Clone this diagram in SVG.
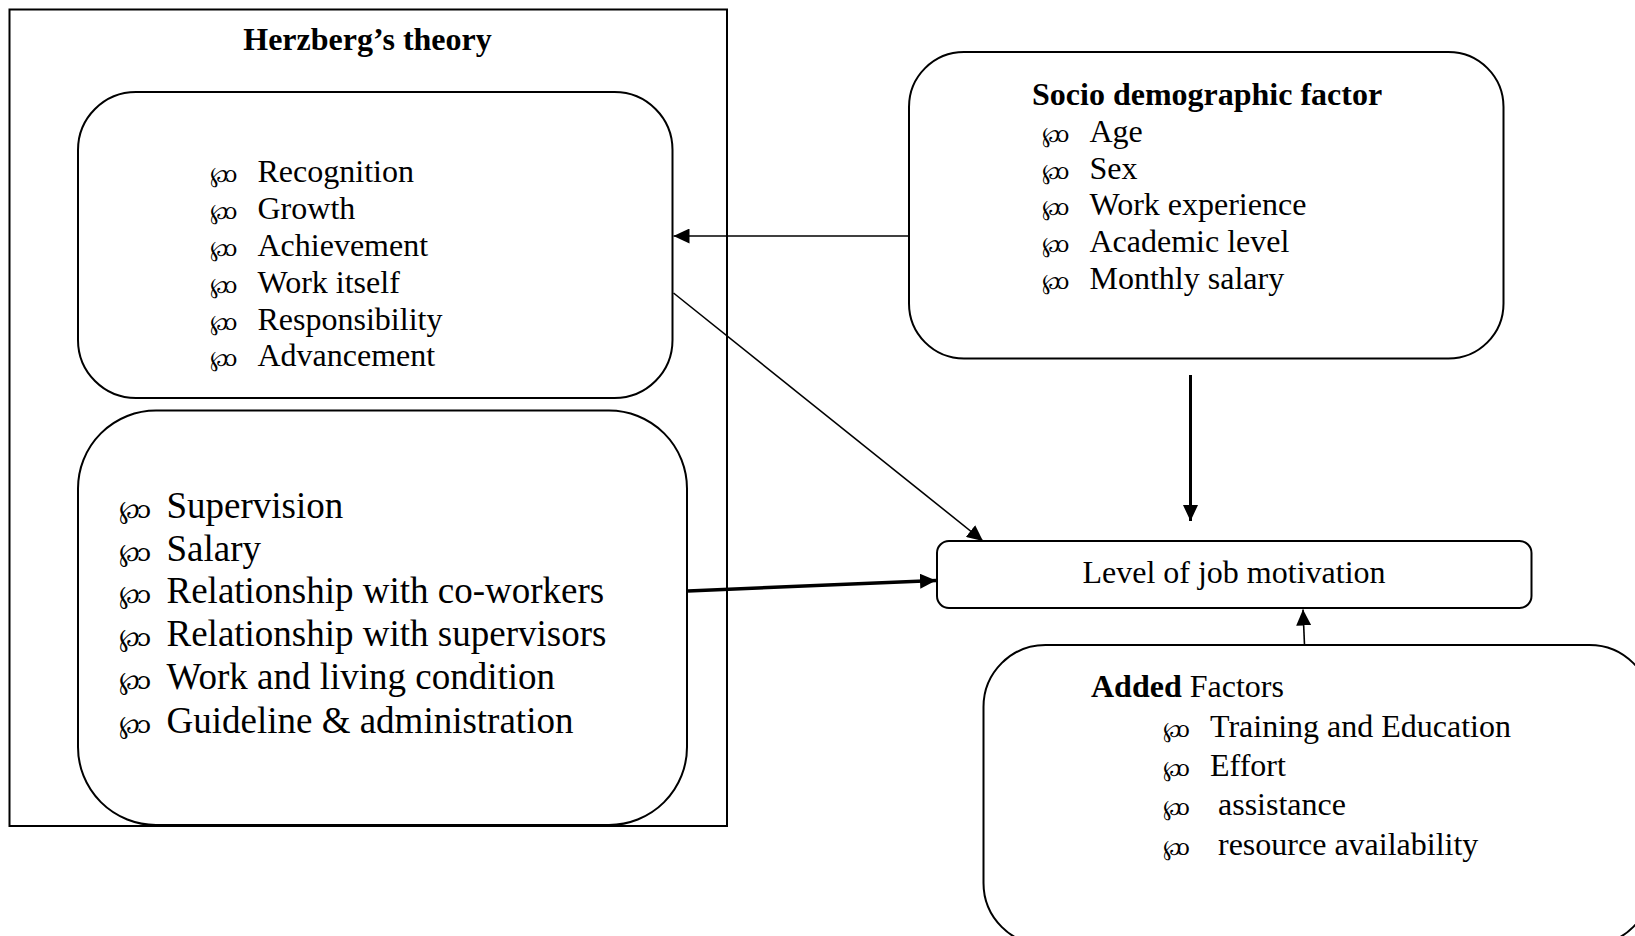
<svg xmlns="http://www.w3.org/2000/svg" width="1635" height="936" viewBox="0 0 1635 936">
  <style>
    .box { fill: #fff; stroke: #000; stroke-width: 2; }
    .frame { fill: none; stroke: #000; stroke-width: 2; }
    .t { font-family: "Liberation Serif", "Times New Roman", serif; font-size: 32px; fill: #000; }
    .big { font-size: 37px; }
    .b { font-weight: bold; }
    .bul { font-family: "DejaVu Serif", "Liberation Serif", serif; font-size: 22px; fill: #000; letter-spacing: -3px; }
    .bulbig { font-size: 25px; }
    .wire { stroke: #000; fill: none; stroke-width: 1.6; }
    .wire-thick { stroke: #000; fill: none; stroke-width: 3.5; }
    .wire-mid { stroke: #000; fill: none; stroke-width: 3; }
  </style>
  <defs>
    <marker id="head" viewBox="0 0 16 15" refX="16" refY="7.5" markerUnits="userSpaceOnUse" markerWidth="16" markerHeight="15" orient="auto">
      <path d="M0,0 L16,7.5 L0,15 Z" fill="#000"/>
    </marker>
  </defs>

  <rect width="1635" height="936" fill="#fff"/>

  <!-- Herzberg frame with its two factor boxes -->
  <g id="herzberg">
    <rect class="frame" x="9.5" y="9.5" width="717.5" height="816.5"/>
    <text class="t b" x="367.5" y="50" text-anchor="middle">Herzberg’s theory</text>
  </g>

  <g id="motivators">
    <rect class="box" x="78" y="92" width="594.5" height="306" rx="58" ry="58"/>
    <g class="bul">
      <text x="210" y="181.5">℘ɔ</text>
      <text x="210" y="218.5">℘ɔ</text>
      <text x="210" y="255.5">℘ɔ</text>
      <text x="210" y="292.5">℘ɔ</text>
      <text x="210" y="329.5">℘ɔ</text>
      <text x="210" y="366">℘ɔ</text>
    </g>
    <g class="t">
      <text x="257.5" y="181.5">Recognition</text>
      <text x="257.5" y="218.5">Growth</text>
      <text x="257.5" y="255.5">Achievement</text>
      <text x="257.5" y="292.5">Work itself</text>
      <text x="257.5" y="329.5">Responsibility</text>
      <text x="257.5" y="366">Advancement</text>
    </g>
  </g>

  <g id="hygiene">
    <rect class="box" x="78" y="410.5" width="609" height="414.5" rx="78" ry="78"/>
    <g class="bul bulbig">
      <text x="119" y="518">℘ɔ</text>
      <text x="119" y="560.5">℘ɔ</text>
      <text x="119" y="603">℘ɔ</text>
      <text x="119" y="646">℘ɔ</text>
      <text x="119" y="689">℘ɔ</text>
      <text x="119" y="732.5">℘ɔ</text>
    </g>
    <g class="t big">
      <text x="166.5" y="518">Supervision</text>
      <text x="166.5" y="560.5">Salary</text>
      <text x="166.5" y="603">Relationship with co-workers</text>
      <text x="166.5" y="646">Relationship with supervisors</text>
      <text x="166.5" y="689">Work and living condition</text>
      <text x="166.5" y="732.5">Guideline &amp; administration</text>
    </g>
  </g>

  <g id="socio">
    <rect class="box" x="909" y="52" width="594.5" height="306.5" rx="55" ry="55"/>
    <text class="t b" x="1032" y="105">Socio demographic factor</text>
    <g class="bul">
      <text x="1042" y="141.5">℘ɔ</text>
      <text x="1042" y="178.5">℘ɔ</text>
      <text x="1042" y="215">℘ɔ</text>
      <text x="1042" y="251.5">℘ɔ</text>
      <text x="1042" y="288.5">℘ɔ</text>
    </g>
    <g class="t">
      <text x="1089.5" y="141.5">Age</text>
      <text x="1089.5" y="178.5">Sex</text>
      <text x="1089.5" y="215">Work experience</text>
      <text x="1089.5" y="251.5">Academic level</text>
      <text x="1089.5" y="288.5">Monthly salary</text>
    </g>
  </g>

  <g id="motivation">
    <rect class="box" x="937" y="541" width="594.5" height="67" rx="12" ry="12"/>
    <text class="t" x="1234" y="583" text-anchor="middle">Level of job motivation</text>
  </g>

  <g id="added">
    <rect class="box" x="983.5" y="645" width="668" height="300" rx="62" ry="62"/>
    <text class="t" x="1091" y="697"><tspan class="b">Added</tspan> Factors</text>
    <g class="bul">
      <text x="1162.5" y="736.5">℘ɔ</text>
      <text x="1162.5" y="775.5">℘ɔ</text>
      <text x="1162.5" y="814.5">℘ɔ</text>
      <text x="1162.5" y="855">℘ɔ</text>
    </g>
    <g class="t">
      <text x="1210" y="736.5">Training and Education</text>
      <text x="1210" y="775.5">Effort</text>
      <text x="1218" y="814.5">assistance</text>
      <text x="1218" y="855">resource availability</text>
    </g>
  </g>

  <g id="connectors">
    <line class="wire" x1="909" y1="236" x2="673.5" y2="236" marker-end="url(#head)"/>
    <line class="wire" x1="673.5" y1="293" x2="983" y2="541" marker-end="url(#head)"/>
    <line class="wire-thick" x1="688" y1="591" x2="936" y2="580.5" marker-end="url(#head)"/>
    <line class="wire-mid" x1="1190.5" y1="375" x2="1190.5" y2="521" marker-end="url(#head)"/>
    <line class="wire" x1="1304.5" y1="645" x2="1303" y2="609.5" marker-end="url(#head)"/>
  </g>
</svg>
